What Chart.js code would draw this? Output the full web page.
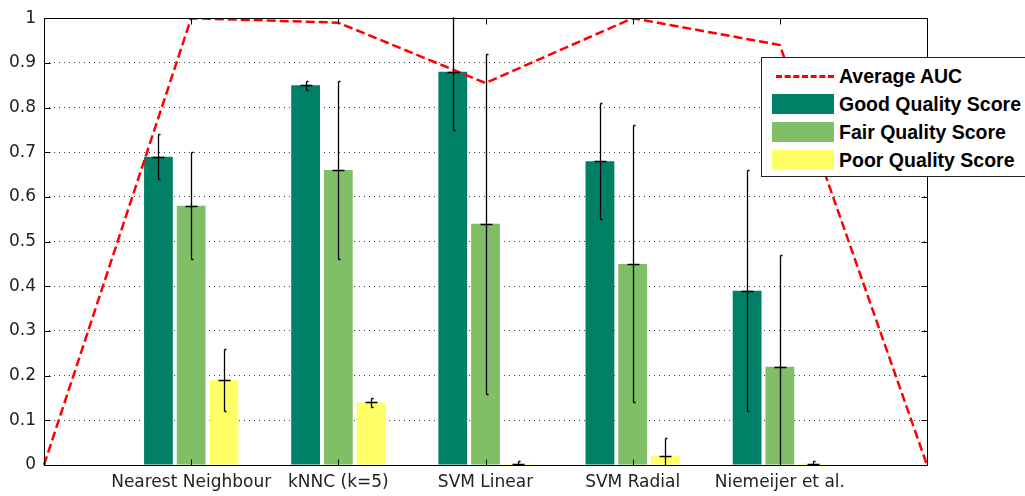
<!DOCTYPE html>
<html>
<head>
<meta charset="utf-8">
<script src="https://cdn.jsdelivr.net/npm/chart.js@4"></script>
<style>
  html, body { margin: 0; padding: 0; background: #fff; overflow: hidden; }
  #wrap { position: relative; width: 1025px; height: 496px; }
  #legend {
    position: absolute; left: 761px; top: 57px; width: 300px; height: 118px;
    border: 1px solid #222; background: #fff;
    font-family: "Liberation Sans", Arial, sans-serif; font-weight: bold; font-size: 19.5px; color: #000;
  }
  .row { position: absolute; left: 10px; height: 22px; line-height: 22px; }
  .sw { position: absolute; left: 0; top: 1px; width: 62px; height: 20px; }
  .row span.lbl { position: absolute; left: 67px; top: 0; white-space: nowrap; }
  .dash { position: absolute; left: 4px; top: 10px; width: 58px; height: 0; border-top: 3px dashed #f00; }
</style>
</head>
<body>
<div id="wrap">
  <canvas id="chart" width="1025" height="496"></canvas>
  <div id="legend"></div>
</div>
<script>
// Categories (0 and 6 are empty ends of the x range)
const categories = ["", "Nearest Neighbour", "kNNC (k=5)", "SVM Linear", "SVM Radial", "Niemeijer et al.", ""];

// Series values
const averageAuc = [0, 1.0, 0.99, 0.855, 1.0, 0.94, 0];
const goodScore = [null, 0.69, 0.85, 0.88, 0.68, 0.39, null];
const fairScore = [null, 0.58, 0.66, 0.54, 0.45, 0.22, null];
const poorScore = [null, 0.19, 0.14, 0.003, 0.02, 0.003, null];

// Error half-widths
const goodErr = [null, 0.05, 0.01, 0.13, 0.13, 0.27, null];
const fairErr = [null, 0.12, 0.20, 0.38, 0.31, 0.25, null];
const poorErr = [null, 0.07, 0.01, 0.005, 0.04, 0.005, null];

// Y tick labels
const yTickLabels = ["0", "0.1", "0.2", "0.3", "0.4", "0.5", "0.6", "0.7", "0.8", "0.9", "1"];

const colors = {
    auc: "#ff0000",
    good: "rgb(0,128,102)",
    fair: "rgb(128,191,102)",
    poor: "rgb(255,255,102)"
};

// error bars, frame and inward tick marks
const extrasPlugin = {
    id: "extras",
    afterDatasetsDraw(chart) {
        const ctx = chart.ctx;
        const area = chart.chartArea;
        const y = chart.scales.y;
        const errs = { 1: goodErr, 2: fairErr, 3: poorErr };
        ctx.save();
        ctx.beginPath();
        ctx.rect(area.left, area.top - 1, area.right - area.left, area.bottom - area.top + 2);
        ctx.clip();
        ctx.strokeStyle = "#000";
        ctx.lineWidth = 1.3;
        Object.keys(errs).forEach(i => {
            const meta = chart.getDatasetMeta(+i);
            const vals = chart.data.datasets[i].data;
            meta.data.forEach((el, j) => {
                if (vals[j] == null) return;
                const e = errs[i][j];
                const x = Math.round(el.x) + 0.5;
                const yv = Math.round(y.getPixelForValue(vals[j])) + 0.5;
                const yl = Math.round(y.getPixelForValue(vals[j] - e)) + 0.5;
                const yh = Math.round(y.getPixelForValue(vals[j] + e)) + 0.5;
                ctx.beginPath();
                ctx.moveTo(x, yl); ctx.lineTo(x, yh);
                ctx.moveTo(x - 6, yv); ctx.lineTo(x + 6, yv);
                ctx.moveTo(x, yl); ctx.lineTo(x + 2, yl);
                ctx.moveTo(x, yh); ctx.lineTo(x + 2, yh);
                ctx.stroke();
            });
        });
        ctx.restore();
    },
    afterDraw(chart) {
        const ctx = chart.ctx;
        const a = chart.chartArea;
        const l = Math.round(a.left) + 0.5, r = Math.round(a.right) + 0.5;
        const t = Math.round(a.top) + 0.5, b = Math.round(a.bottom) + 0.5;
        ctx.save();
        ctx.strokeStyle = "#000";
        ctx.lineWidth = 1;
        ctx.strokeRect(l, t, r - l, b - t);
        ctx.beginPath();
        chart.scales.y.ticks.forEach(tk => {
            const py = Math.round(chart.scales.y.getPixelForValue(tk.value)) + 0.5;
            ctx.moveTo(l, py); ctx.lineTo(l + 6, py);
            ctx.moveTo(r, py); ctx.lineTo(r - 6, py);
        });
        categories.forEach((c, i) => {
            const px = Math.round(chart.scales.x.getPixelForValue(i)) + 0.5;
            ctx.moveTo(px, t); ctx.lineTo(px, t + 6);
            ctx.moveTo(px, b); ctx.lineTo(px, b - 6);
        });
        ctx.stroke();
        ctx.restore();
    }
};

const chart = new Chart(document.getElementById("chart"), {
    type: "bar",
    data: {
        labels: categories,
        datasets: [
            {
                type: "line", label: "Average AUC", data: averageAuc,
                borderColor: colors.auc, borderWidth: 2.5, borderDash: [9, 4],
                pointRadius: 0, fill: false, tension: 0, order: 0
            },
            { label: "Good Quality Score", data: goodScore, backgroundColor: colors.good, order: 1 },
            { label: "Fair Quality Score", data: fairScore, backgroundColor: colors.fair, order: 1 },
            { label: "Poor Quality Score", data: poorScore, backgroundColor: colors.poor, order: 1 }
        ]
    },
    options: {
        responsive: false,
        animation: false,
        categoryPercentage: 0.667,
        barPercentage: 0.88,
        layout: { padding: { top: 14, right: 98, left: 0, bottom: 0 } },
        plugins: { legend: { display: false }, tooltip: { enabled: false } },
        scales: {
            x: {
                offset: false,
                grid: { display: false, drawTicks: false, offset: false },
                border: { display: false },
                ticks: {
                    autoSkip: false, maxRotation: 0, padding: 7, color: "#222",
                    font: { family: "DejaVu Sans", size: 17 }
                },
                afterFit: s => { s.height = 31; }
            },
            y: {
                min: 0, max: 1,
                grid: { color: "rgba(0,0,0,0.75)", lineWidth: 1, drawTicks: false },
                border: { display: false, dash: [1, 4] },
                ticks: {
                    stepSize: 0.1, padding: 8, color: "#222",
                    font: { family: "DejaVu Sans", size: 17 },
                    callback: (v, i) => yTickLabels[i]
                },
                afterFit: s => { s.width = 44; }
            }
        }
    },
    plugins: [extrasPlugin]
});

// legend built from the datasets
const legend = document.getElementById("legend");
chart.data.datasets.forEach((ds, i) => {
    const row = document.createElement("div");
    row.className = "row";
    row.style.top = (7 + i * 28) + "px";
    const sw = document.createElement("div");
    if (ds.type === "line") {
        sw.className = "dash";
    } else {
        sw.className = "sw";
        sw.style.background = ds.backgroundColor;
    }
    const lbl = document.createElement("span");
    lbl.className = "lbl";
    lbl.textContent = ds.label;
    row.appendChild(sw);
    row.appendChild(lbl);
    legend.appendChild(row);
});
</script>
</body>
</html>
